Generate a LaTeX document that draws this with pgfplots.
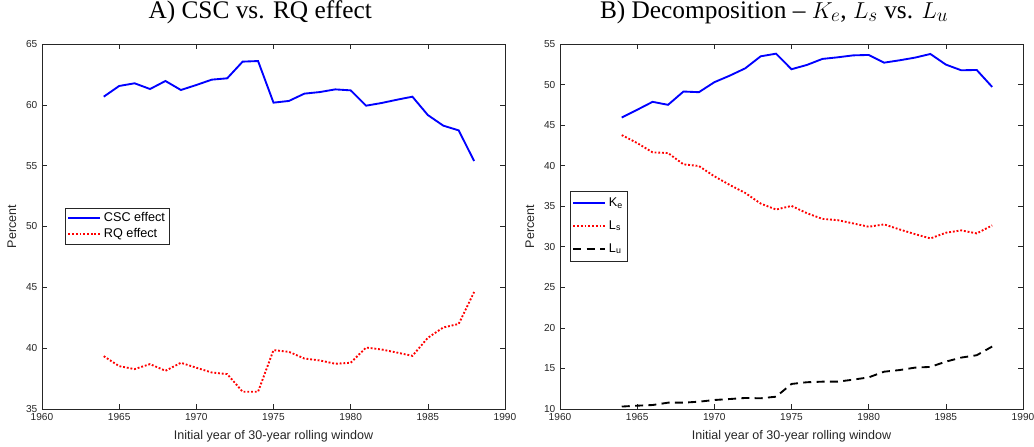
\documentclass[border=0pt]{standalone}
\usepackage{fontspec}
\setmainfont{Liberation Serif}
\newfontfamily\arial{Liberation Sans}
\usepackage{pgfplots}
\usepackage{pgfplotstable}
\pgfplotsset{compat=1.18}

% panel A: CSC and RQ effect (percent)
\pgfplotstableread{
year csc rq
1964 60.67 39.34
1965 61.55 38.52
1966 61.77 38.28
1967 61.30 38.69
1968 61.96 38.14
1969 61.22 38.80
1970 61.63 38.39
1971 62.07 38.00
1972 62.18 37.87
1973 63.55 36.42
1974 63.60 36.42
1975 60.18 39.84
1976 60.32 39.70
1977 60.92 39.15
1978 61.05 38.99
1979 61.27 38.72
1980 61.19 38.80
1981 59.93 40.05
1982 60.15 39.89
1983 60.42 39.64
1984 60.67 39.37
1985 59.16 40.85
1986 58.29 41.70
1987 57.90 41.99
1988 55.38 44.62
}\tabA

% panel B: decomposition Ke, Ls, Lu
\pgfplotstableread{
year ke ls lu
1964 45.94 43.77 10.30
1965 46.89 42.79 10.41
1966 47.87 41.64 10.49
1967 47.50 41.56 10.78
1968 49.14 40.16 10.78
1969 49.06 39.96 10.90
1970 50.29 38.69 11.11
1971 51.10 37.62 11.23
1972 52.00 36.64 11.36
1973 53.48 35.33 11.32
1974 53.81 34.59 11.52
1975 51.89 35.04 13.09
1976 52.42 34.14 13.30
1977 53.16 33.44 13.37
1978 53.36 33.28 13.37
1979 53.60 32.88 13.62
1980 53.65 32.47 13.90
1981 52.70 32.76 14.60
1982 52.99 32.14 14.80
1983 53.32 31.56 15.10
1984 53.77 31.03 15.19
1985 52.46 31.73 15.84
1986 51.76 32.02 16.34
1987 51.80 31.65 16.63
1988 49.71 32.63 17.70
}\tabB

\definecolor{axgray}{gray}{0.15}

\pgfplotsset{panel/.style={
  scale only axis, width=347.25pt, height=273.75pt,
  xmin=1960, xmax=1990, xtick={1960,1965,...,1990},
  axis line style={draw=axgray, line width=0.5pt},
  tick style={draw=axgray, line width=0.5pt}, major tick length=4pt,
  tick align=inside,
  ticklabel style={font=\arial\fontsize{7.6}{9}\selectfont, text=axgray},
  /pgf/number format/assume math mode=true,
  xticklabel style={/pgf/number format/1000 sep={}},
  xlabel={Initial year of 30-year rolling window}, ylabel={Percent},
  label style={font=\arial\fontsize{9.4}{11}\selectfont, text=axgray},
  xlabel style={at={(axis description cs:0.5,-0.076)}, anchor=center},
  ylabel style={at={(axis description cs:-0.065,0.5)}, anchor=center},
  title style={font=\fontsize{19}{22}\selectfont, at={(axis description cs:0.5,1)}, anchor=base, yshift=13.5pt},
  legend style={font=\arial\fontsize{9.5}{11}\selectfont, draw=axgray,
    anchor=north west, inner sep=1.5pt, row sep=-1pt},
  legend cell align=left,
  legend image code/.code={\draw[##1, line width=1.4pt] (0pt,0pt) -- (24pt,0pt);},
}}

\begin{document}
\begin{tikzpicture}
\useasboundingbox (-31.5pt,-27.75pt) rectangle (744pt,306.75pt);
\begin{axis}[panel, ymin=35, ymax=65, ytick={35,40,...,65},
  title={A) CSC vs. RQ effect}, title style={xshift=-10pt},
  legend style={at={(axis description cs:0.05,0.551)}}]
\addplot[blue, line width=1.4pt] table[x=year, y=csc] {\tabA};
\addlegendentry{CSC effect}
\addplot[red, line width=1.4pt, dash pattern=on 1.4pt off 1.4pt] table[x=year, y=rq] {\tabA};
\addlegendentry{RQ effect}
\end{axis}
\begin{axis}[panel, xshift=388.5pt, ymin=10, ymax=55, ytick={10,15,...,55},
  title={B) Decomposition -- $K_e$, $L_s$ vs. $L_u$}, title style={xshift=-13pt},
  legend style={at={(axis description cs:0.022,0.597)}, row sep=5pt, inner ysep=3pt}]
\addplot[blue, line width=1.4pt] table[x=year, y=ke] {\tabB};
\addlegendentry{K\textsubscript{e}}
\addplot[red, line width=1.4pt, dash pattern=on 1.4pt off 1.4pt] table[x=year, y=ls] {\tabB};
\addlegendentry{L\textsubscript{s}}
\addplot[black, line width=1.4pt, dash pattern=on 6pt off 4pt] table[x=year, y=lu] {\tabB};
\addlegendentry{L\textsubscript{u}}
\end{axis}
\end{tikzpicture}
\end{document}
